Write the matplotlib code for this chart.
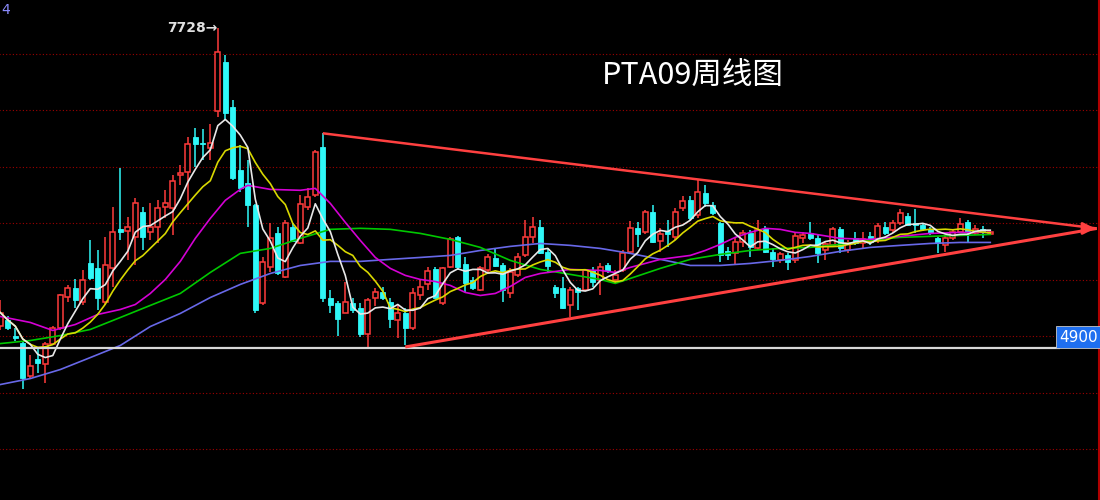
import matplotlib
matplotlib.use("Agg")
import matplotlib.pyplot as plt
from matplotlib.lines import Line2D
import numpy as np
import pandas as pd

plt.rcParams['font.family'] = ['Noto Sans CJK SC', 'DejaVu Sans']

# ---- weekly OHLC ----
opens = [5095, 5140, 5006, 4944, 4652, 4802, 4758, 4935, 5069, 5352,
         5423, 5299, 5645, 5601, 5299, 5601, 5947, 5929, 5876, 6097,
         5920, 5964, 6142, 6133, 6426, 6452, 6763, 6709, 6665, 6993,
         7428, 7029, 6470, 6355, 6160, 5290, 5610, 5911, 5521, 5964,
         5822, 6142, 6248, 6674, 5343, 5290, 5210, 5290, 5246, 5024,
         5343, 5388, 5299, 5140, 5202, 5069, 5361, 5459, 5592, 5290,
         5610, 5876, 5636, 5494, 5406, 5583, 5689, 5627, 5379, 5539,
         5716, 5876, 5964, 5743, 5432, 5423, 5273, 5423, 5406, 5583,
         5494, 5627, 5494, 5583, 5743, 5956, 5920, 6097, 5840, 5929,
         5876, 6133, 6204, 6071, 6266, 6160, 6000, 5752, 5734, 5831,
         5911, 5778, 5956, 5743, 5672, 5716, 5672, 5867, 5911, 5867,
         5760, 5805, 5947, 5760, 5867, 5822, 5885, 5849, 5964, 5938,
         6000, 6062, 6000, 5982, 5947, 5867, 5805, 5867, 5920, 6009,
         5911, 5947, 5902]
highs = [5317, 5175, 5077, 4953, 4838, 4891, 4953, 5095, 5370, 5450,
         5503, 5583, 5849, 5760, 5876, 6142, 6488, 6053, 6222, 6142,
         6177, 6204, 6293, 6426, 6514, 6763, 6843, 6834, 6878, 7728,
         7490, 7091, 6692, 6559, 6168, 5698, 6000, 5964, 6026, 6000,
         6248, 6310, 6647, 6798, 5406, 5308, 5477, 5335, 5290, 5335,
         5423, 5432, 5335, 5273, 5246, 5423, 5494, 5610, 5610, 5610,
         5876, 5885, 5698, 5521, 5618, 5725, 5778, 5645, 5601, 5734,
         6026, 6053, 6026, 5778, 5450, 5521, 5432, 5432, 5592, 5610,
         5645, 5645, 5583, 5760, 6018, 6009, 6115, 6160, 5956, 6026,
         6133, 6239, 6239, 6390, 6337, 6186, 6009, 5787, 5867, 5938,
         5938, 6026, 5973, 5778, 5743, 5734, 5911, 5920, 6009, 5893,
         5831, 5964, 5964, 5849, 5920, 5920, 5920, 6000, 6009, 6026,
         6124, 6089, 6124, 6000, 5964, 5876, 5893, 5947, 6044, 6026,
         5982, 5973, 5938]
lows = [5051, 5051, 4962, 4536, 4634, 4678, 4590, 4918, 5051, 5299,
        5246, 5273, 5494, 5228, 5281, 5432, 5849, 5672, 5627, 5760,
        5849, 5822, 6044, 5893, 6337, 6115, 6497, 6559, 6559, 6940,
        6913, 6381, 6275, 5964, 5210, 5281, 5565, 5539, 5512, 5831,
        5813, 6115, 6230, 5299, 5202, 5006, 5202, 5210, 4989, 4891,
        5264, 5317, 5069, 4980, 4918, 5051, 5317, 5406, 5335, 5273,
        5601, 5583, 5388, 5406, 5397, 5565, 5610, 5299, 5335, 5521,
        5698, 5822, 5725, 5556, 5335, 5237, 5166, 5228, 5397, 5432,
        5361, 5556, 5468, 5565, 5725, 5787, 5902, 5822, 5743, 5787,
        5849, 6106, 6026, 6044, 6142, 6071, 5654, 5672, 5627, 5787,
        5698, 5760, 5734, 5610, 5645, 5583, 5645, 5822, 5849, 5645,
        5672, 5796, 5734, 5734, 5805, 5778, 5805, 5822, 5893, 5911,
        5982, 5973, 5911, 5929, 5893, 5734, 5743, 5849, 5911, 5831,
        5893, 5867, 5893]
closes = [5210, 5077, 4980, 4634, 4740, 4767, 4935, 5069, 5361, 5423,
          5317, 5494, 5512, 5335, 5627, 5920, 5920, 5964, 6177, 5876,
          5964, 6133, 6177, 6372, 6443, 6701, 6701, 6701, 6709, 7517,
          6976, 6399, 6310, 6160, 5228, 5654, 5867, 5556, 6000, 5840,
          6168, 6230, 6630, 5335, 5273, 5157, 5299, 5228, 5024, 5317,
          5388, 5335, 5157, 5210, 5069, 5379, 5432, 5574, 5343, 5601,
          5858, 5610, 5468, 5423, 5601, 5698, 5618, 5406, 5565, 5698,
          5876, 5964, 5734, 5618, 5379, 5246, 5406, 5388, 5583, 5477,
          5610, 5574, 5539, 5734, 5956, 5902, 6097, 5831, 5902, 5902,
          6097, 6195, 6044, 6275, 6177, 6089, 5716, 5716, 5831, 5911,
          5787, 5938, 5743, 5681, 5725, 5654, 5885, 5893, 5867, 5734,
          5814, 5947, 5778, 5822, 5822, 5858, 5831, 5973, 5911, 6000,
          6089, 5982, 5982, 5947, 5911, 5822, 5867, 5920, 5991, 5920,
          5947, 5920, 5920]

ma20_idx = [0, 4, 7, 10, 13, 16, 18, 20, 22, 24, 26, 28, 30, 32, 33, 36, 40, 42,
            44, 46, 48, 50, 52, 54, 56, 58, 60, 62, 64, 66, 68, 70, 72, 76, 80,
            82, 84, 86, 88, 92, 94, 96, 98, 100, 102, 104, 106, 108, 112, 116,
            120, 124, 128, 132]
ma20_val = [5175, 5122, 5051, 5104, 5193, 5237, 5281, 5379, 5503, 5663, 5867,
            6044, 6204, 6301, 6337, 6301, 6293, 6310, 6177, 6009, 5849, 5698,
            5601, 5539, 5503, 5485, 5450, 5388, 5361, 5379, 5441, 5521, 5556,
            5592, 5583, 5565, 5610, 5645, 5681, 5716, 5760, 5814, 5876, 5920,
            5956, 5947, 5920, 5911, 5867, 5858, 5885, 5911, 5920, 5920]
ma40_idx = [0, 4, 8, 12, 16, 20, 24, 28, 32, 36, 40, 44, 48, 52, 56, 60, 64, 68,
            72, 76, 80, 82, 84, 88, 92, 96, 100, 104, 108, 112, 116, 120, 124,
            128, 132]
ma40_val = [4935, 4962, 5006, 5060, 5166, 5273, 5379, 5565, 5734, 5778, 5867,
            5947, 5956, 5947, 5911, 5858, 5787, 5672, 5592, 5548, 5503, 5468,
            5512, 5601, 5681, 5725, 5760, 5778, 5787, 5814, 5849, 5876, 5885,
            5893, 5902]
ma60_idx = [0, 4, 8, 12, 16, 20, 24, 28, 32, 36, 40, 44, 48, 52, 56, 60, 64, 68,
            72, 76, 80, 84, 88, 92, 96, 100, 104, 108, 112, 116, 120, 124, 128,
            132]
ma60_val = [4572, 4625, 4705, 4811, 4918, 5086, 5202, 5343, 5459, 5556, 5627,
            5663, 5663, 5681, 5698, 5716, 5760, 5796, 5822, 5805, 5778, 5734,
            5681, 5627, 5627, 5645, 5672, 5707, 5752, 5787, 5805, 5822, 5831,
            5831]

title = "PTA09周线图"
peak_label = "7728→"
support_level = 4900
grid_levels = [4000, 4500, 5000, 5500, 6000, 6500, 7000, 7500]
# triangle (start week/price -> apex week/price)
upper_tri = [(43, 6798), (146.2, 5955)]
lower_tri = [(54, 4905), (146.2, 5955)]

# ---- figure ----
fig = plt.figure(figsize=(11, 5), dpi=100, facecolor='black')
ax = fig.add_axes([0, 0, 1, 1])
ax.set_facecolor('black')
for s in ax.spines.values():
    s.set_visible(False)
ax.set_xticks([]); ax.set_yticks([])
ax.set_xlim(-0.04, 146.63)
ax.set_ylim(3549, 7979)

n = len(closes)
x = np.arange(n)
RED = '#ff3b3b'
CYAN = '#2ff8f8'

ax.hlines(grid_levels, -1, 146.4, colors='#a00000', linestyles=(0, (1, 2)),
          linewidth=0.8, zorder=1)

for i in range(n):
    o, h, l, c = opens[i], highs[i], lows[i], closes[i]
    up = c >= o
    col = RED if up else CYAN
    ax.vlines(i, l, h, color=col, linewidth=1.1, zorder=2)
    bot = min(o, c)
    hgt = max(abs(c - o), 8)
    if up:
        ax.bar(i, hgt, bottom=bot, width=0.64, facecolor='black',
               edgecolor=col, linewidth=1.1, zorder=2.5)
    else:
        ax.bar(i, hgt, bottom=bot, width=0.64, facecolor=col,
               edgecolor=col, linewidth=0.6, zorder=2.5)

cs = pd.Series(closes, dtype=float)
ma5 = cs.rolling(5, min_periods=1).mean()
ma10 = cs.rolling(10, min_periods=1).mean()

ax.plot(ma60_idx, ma60_val, color='#6868e8', lw=1.2, zorder=3)
ax.plot(ma40_idx, ma40_val, color='#00c800', lw=1.2, zorder=3)
ax.plot(ma20_idx, ma20_val, color='#d400d4', lw=1.2, zorder=3)
ax.plot(x, ma10, color='#d8d800', lw=1.2, zorder=3)
ax.plot(x, ma5, color='#e8e8e8', lw=1.2, zorder=3)

# support line at 4900
ax.hlines(support_level, -1, 141.3, colors='#d8d8d8', linewidth=1.6, zorder=3)
fig.text(1079 / 1100, 1 - 337 / 500, str(support_level), ha='center', va='center',
         color='white', fontsize=11, family='DejaVu Sans',
         bbox=dict(boxstyle='square,pad=0.22', fc='#1f6ff0', ec='#c8c8c8', lw=0.6))

# triangle
ax.plot([upper_tri[0][0], upper_tri[1][0]], [upper_tri[0][1], upper_tri[1][1]],
        color='#ff4040', lw=1.8, zorder=4, solid_capstyle='butt')
ax.plot([lower_tri[0][0], lower_tri[1][0]], [lower_tri[0][1], lower_tri[1][1]],
        color='#ff4040', lw=2.2, zorder=4, solid_capstyle='butt')
ax.annotate('', xy=(upper_tri[1][0] + 0.15, upper_tri[1][1]),
            xytext=(upper_tri[1][0] - 1.6, upper_tri[1][1]),
            arrowprops=dict(arrowstyle='-|>', color='#ff4040', lw=2,
                            mutation_scale=18), zorder=5)

# peak label
peak_i = int(np.argmax(highs))
ax.text(peak_i - 0.1, highs[peak_i] + 5, peak_label, ha='right', va='center',
        color='#e0e0e0', fontsize=10, family='DejaVu Sans', fontweight='bold',
        zorder=5)

# title
ax.text(92.3, 4900 + (347.5 - 75) * 8.86, title, ha='center', va='center',
        color='white', fontsize=22, zorder=5)

# right border and clipped label at top-left
fig.add_artist(Line2D([1098.5 / 1100] * 2, [0, 1], color='#b00000', lw=1.5))
fig.text(0.001, 1 - 10 / 500, '4', color='#8c8cff', fontsize=10,
         ha='left', va='center', family='DejaVu Sans')

fig.savefig('out.png', dpi=100, facecolor='black')
